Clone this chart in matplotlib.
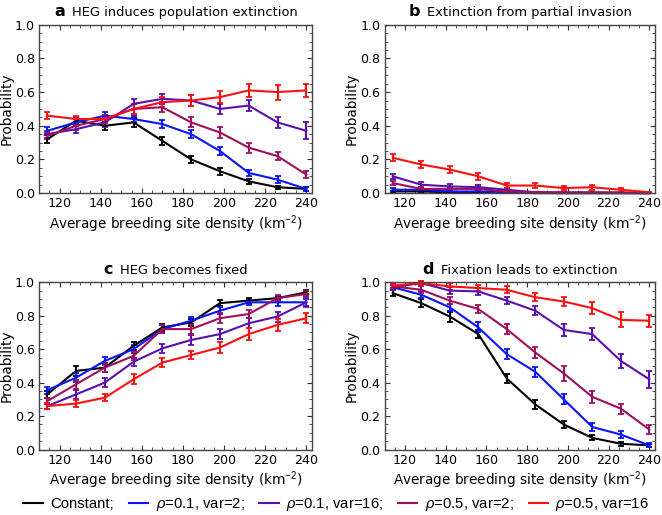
import matplotlib
matplotlib.use('Agg')
import matplotlib.pyplot as plt
from matplotlib.ticker import MultipleLocator, FormatStrFormatter
from matplotlib.lines import Line2D
import numpy as np

plt.rcParams['font.family'] = ['DejaVu Sans']
plt.rcParams['mathtext.fontset'] = 'custom'
plt.rcParams['mathtext.it'] = 'Liberation Sans:italic'
plt.rcParams['mathtext.rm'] = 'Liberation Sans'

density = [114, 128, 142, 156, 170, 184, 198, 212, 226, 240]

series_names = ['Constant;', r'$\rho$=0.1, var=2;', r'$\rho$=0.1, var=16;',
                r'$\rho$=0.5, var=2;', r'$\rho$=0.5, var=16']
series_colors = ['black', '#0a14ff', '#5a0fb0', '#a0105a', '#ff1010']

# a  HEG induces population extinction
a_vals = [
    [0.32, 0.43, 0.40, 0.42, 0.31, 0.20, 0.13, 0.07, 0.035, 0.025],
    [0.37, 0.42, 0.46, 0.44, 0.41, 0.35, 0.25, 0.12, 0.08, 0.025],
    [0.35, 0.38, 0.42, 0.53, 0.56, 0.55, 0.50, 0.52, 0.42, 0.37],
    [0.34, 0.40, 0.44, 0.50, 0.51, 0.42, 0.36, 0.27, 0.22, 0.11],
    [0.46, 0.44, 0.44, 0.50, 0.54, 0.55, 0.57, 0.61, 0.60, 0.61],
]
a_err = [
    [0.025, 0.02, 0.025, 0.025, 0.025, 0.02, 0.02, 0.015, 0.01, 0.01],
    [0.02, 0.02, 0.02, 0.02, 0.025, 0.025, 0.025, 0.02, 0.02, 0.01],
    [0.02, 0.025, 0.025, 0.03, 0.03, 0.03, 0.03, 0.035, 0.035, 0.05],
    [0.02, 0.025, 0.025, 0.03, 0.03, 0.03, 0.035, 0.03, 0.025, 0.02],
    [0.02, 0.02, 0.025, 0.03, 0.03, 0.03, 0.035, 0.04, 0.045, 0.04],
]

# b  Extinction from partial invasion
b_vals = [
    [0.01, 0.01, 0.005, 0.005, 0.002, 0.0, 0.0, 0.0, 0.0, 0.0],
    [0.02, 0.02, 0.01, 0.01, 0.005, 0.002, 0.0, 0.0, 0.0, 0.0],
    [0.10, 0.05, 0.04, 0.035, 0.02, 0.005, 0.003, 0.002, 0.001, 0.0],
    [0.06, 0.025, 0.025, 0.025, 0.01, 0.005, 0.005, 0.005, 0.005, 0.0],
    [0.21, 0.17, 0.14, 0.10, 0.045, 0.045, 0.03, 0.035, 0.02, 0.005],
]
b_err = [
    [0.005, 0.005, 0.004, 0.004, 0.002, 0.0, 0.0, 0.0, 0.0, 0.0],
    [0.01, 0.008, 0.006, 0.006, 0.004, 0.002, 0.0, 0.0, 0.0, 0.0],
    [0.015, 0.015, 0.012, 0.012, 0.008, 0.004, 0.003, 0.002, 0.001, 0.0],
    [0.012, 0.01, 0.01, 0.01, 0.006, 0.004, 0.004, 0.004, 0.004, 0.0],
    [0.02, 0.02, 0.02, 0.02, 0.015, 0.015, 0.012, 0.015, 0.012, 0.004],
]

# c  HEG becomes fixed
c_vals = [
    [0.33, 0.47, 0.49, 0.62, 0.73, 0.76, 0.875, 0.89, 0.905, 0.94],
    [0.355, 0.43, 0.53, 0.60, 0.72, 0.77, 0.83, 0.88, 0.88, 0.88],
    [0.26, 0.33, 0.40, 0.525, 0.605, 0.655, 0.69, 0.755, 0.795, 0.88],
    [0.29, 0.39, 0.49, 0.56, 0.72, 0.72, 0.785, 0.81, 0.905, 0.93],
    [0.26, 0.275, 0.31, 0.42, 0.52, 0.565, 0.61, 0.69, 0.745, 0.785],
]
c_err = [
    [0.02, 0.03, 0.025, 0.025, 0.02, 0.02, 0.02, 0.015, 0.015, 0.012],
    [0.02, 0.025, 0.025, 0.025, 0.025, 0.02, 0.02, 0.015, 0.02, 0.02],
    [0.02, 0.025, 0.025, 0.025, 0.025, 0.03, 0.03, 0.03, 0.03, 0.03],
    [0.02, 0.025, 0.025, 0.025, 0.025, 0.03, 0.03, 0.025, 0.02, 0.015],
    [0.02, 0.02, 0.02, 0.03, 0.025, 0.025, 0.03, 0.035, 0.035, 0.03],
]

# d  Fixation leads to extinction
d_vals = [
    [0.935, 0.875, 0.795, 0.69, 0.425, 0.27, 0.15, 0.07, 0.035, 0.025],
    [0.97, 0.925, 0.85, 0.73, 0.57, 0.465, 0.30, 0.135, 0.09, 0.025],
    [0.97, 0.995, 0.95, 0.945, 0.89, 0.83, 0.715, 0.69, 0.53, 0.42],
    [0.975, 0.955, 0.89, 0.84, 0.72, 0.58, 0.455, 0.315, 0.245, 0.12],
    [0.98, 0.995, 0.975, 0.965, 0.955, 0.91, 0.885, 0.845, 0.775, 0.77],
]
d_err = [
    [0.02, 0.025, 0.03, 0.025, 0.025, 0.025, 0.02, 0.015, 0.012, 0.01],
    [0.015, 0.02, 0.02, 0.03, 0.03, 0.03, 0.03, 0.025, 0.02, 0.012],
    [0.015, 0.01, 0.02, 0.02, 0.02, 0.025, 0.035, 0.035, 0.04, 0.05],
    [0.012, 0.02, 0.02, 0.025, 0.03, 0.035, 0.045, 0.035, 0.03, 0.025],
    [0.012, 0.01, 0.02, 0.02, 0.02, 0.025, 0.025, 0.035, 0.045, 0.035],
]

panels = [
    ('a', 'HEG induces population extinction', a_vals, a_err),
    ('b', 'Extinction from partial invasion', b_vals, b_err),
    ('c', 'HEG becomes fixed', c_vals, c_err),
    ('d', 'Fixation leads to extinction', d_vals, d_err),
]

fig = plt.figure(figsize=(6.62, 5.15), dpi=100)
rects = [
    [0.059, 0.625, 0.413, 0.327],
    [0.581, 0.625, 0.409, 0.327],
    [0.059, 0.127, 0.413, 0.325],
    [0.581, 0.127, 0.409, 0.325],
]
renderer = fig.canvas.get_renderer()

for rect, (letter, title, vals, errs) in zip(rects, panels):
    ax = fig.add_axes(rect)
    for v, e, col in zip(vals, errs, series_colors):
        ax.errorbar(density, v, yerr=e, color=col, lw=1.5, elinewidth=1.5,
                    capsize=2.2, capthick=1.3, clip_on=False)
    ax.set_xlim(110, 243)
    ax.set_ylim(0, 1.0)
    ax.xaxis.set_major_locator(MultipleLocator(20))
    ax.xaxis.set_minor_locator(MultipleLocator(5))
    ax.yaxis.set_major_locator(MultipleLocator(0.2))
    ax.yaxis.set_minor_locator(MultipleLocator(0.05))
    ax.tick_params(which='both', direction='in', top=True, right=True,
                   labelsize=9.1, color='#333333')
    ax.tick_params(which='major', length=3.5, width=0.8, pad=3)
    ax.tick_params(which='minor', length=2, width=0.6)
    ax.yaxis.set_major_formatter(FormatStrFormatter('%.1f'))
    for s in ax.spines.values():
        s.set_color('#444444')
        s.set_linewidth(1.0)
    ax.set_ylabel('Probability', fontsize=9.8, labelpad=1)
    ax.set_xlabel(r'Average breeding site density (km$^{-2}$)', fontsize=9.8,
                  labelpad=2)

    # title: bold panel letter + plain text, centred together over the axes
    ty = 1.052
    lt = ax.text(0, ty, letter, transform=ax.transAxes, ha='left',
                 va='baseline', fontsize=11.5, fontweight='bold')
    tt = ax.text(0, ty, title, transform=ax.transAxes, ha='left',
                 va='baseline', fontsize=9.4)
    axw = ax.get_window_extent(renderer).width
    wl = lt.get_window_extent(renderer).width / axw
    wt = tt.get_window_extent(renderer).width / axw
    gap = 7.0 / axw
    x0 = 0.5 - (wl + gap + wt) / 2
    lt.set_x(x0)
    tt.set_x(x0 + wl + gap)

handles = [Line2D([0], [0], color=c, lw=1.5) for c in series_colors]
fig.legend(handles, series_names, loc='center', bbox_to_anchor=(0.508, 0.02),
           ncol=5, frameon=False, handlelength=1.3, handletextpad=0.5,
           columnspacing=1.0, prop={'family': 'Liberation Sans', 'size': 10.7})

fig.savefig('out.png', dpi=100)
